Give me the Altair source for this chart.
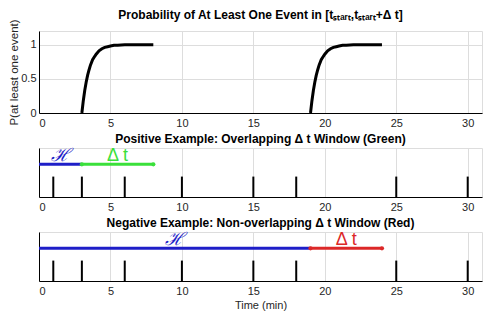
import altair as alt
import pandas as pd

# ---- data ----
events = [1, 3, 6, 10, 15, 18, 25, 30]

curve1_t = [3.0, 3.1, 3.2, 3.3, 3.4, 3.5, 3.6, 3.75, 3.9, 4.0, 4.2, 4.4, 4.6, 4.8, 5.0, 5.25, 5.5, 6.0, 6.5, 7.0, 7.5, 8.0]
curve1_p = [0.0, 0.18, 0.33, 0.45, 0.55, 0.63, 0.70, 0.78, 0.83, 0.86, 0.91, 0.94, 0.96, 0.97, 0.98, 0.99, 0.993, 1.0, 1.0, 1.0, 1.0, 1.0]
curve2_t = [19.0, 19.1, 19.2, 19.3, 19.4, 19.5, 19.6, 19.75, 19.9, 20.0, 20.2, 20.4, 20.6, 20.8, 21.0, 21.25, 21.5, 22.0, 22.5, 23.0, 23.5, 24.0]
curve2_p = [0.0, 0.18, 0.33, 0.45, 0.55, 0.63, 0.70, 0.78, 0.83, 0.86, 0.91, 0.94, 0.96, 0.97, 0.98, 0.99, 0.993, 1.0, 1.0, 1.0, 1.0, 1.0]

pos_hist = [0, 3]
pos_win = [3, 8]
neg_hist = [0, 19]
neg_win = [19, 24]

x_ticks = [0, 5, 10, 15, 20, 25, 30]

BLUE = "#1e1ec8"
GREEN = "#3ae03a"
RED = "#dc2828"
FONT = "Liberation Sans"
W = 443

xscale = alt.Scale(domain=[0, 31], nice=False, zero=False)
yscale = alt.Scale(domain=[0, 1.2], nice=False)


def xaxis(title=None):
    kw = dict(values=x_ticks, grid=True, ticks=False, labelPadding=4,
              labelFontSize=11, labelColor="#262626", domainColor="#000000")
    if title:
        kw.update(title=title, titleFontWeight="normal", titleFontSize=11,
                  titleColor="#262626", titlePadding=3)
    else:
        kw.update(title=None)
    return alt.Axis(**kw)


# ---- panel 1: probability curves ----
cdf = pd.DataFrame({
    "t": curve1_t + curve2_t,
    "p": curve1_p + curve2_p,
    "seg": ["a"] * len(curve1_t) + ["b"] * len(curve2_t),
})
p1 = alt.Chart(cdf).mark_line(color="black", strokeWidth=3).encode(
    x=alt.X("t:Q", scale=xscale, axis=xaxis()),
    y=alt.Y("p:Q", scale=yscale,
            axis=alt.Axis(values=[0, 0.5, 1], format="~g", grid=True, ticks=False,
                          labelPadding=3, labelFontSize=11, labelColor="#262626",
                          title="P(at least one event)", titleFontWeight="normal",
                          titleFontSize=11.5, titleColor="#262626", titlePadding=1,
                          domainColor="#000000")),
    detail="seg:N",
).properties(
    width=W, height=82,
    title=alt.TitleParams("Probability of At Least One Event in [tₛₜₐᵣₜ,tₛₜₐᵣₜ+Δ t]",
                          fontSize=12, fontWeight="bold", font=FONT, offset=-3),
)


def example(hist, win, color, title, xtitle=None):
    ev = pd.DataFrame({"t": events, "y0": [0] * len(events), "y1": [0.5] * len(events)})
    spikes = alt.Chart(ev).mark_rule(color="black", strokeWidth=2).encode(
        x=alt.X("t:Q", scale=xscale, axis=xaxis(xtitle)),
        y=alt.Y("y0:Q", scale=yscale,
                axis=alt.Axis(labels=False, ticks=False, grid=False, title=None,
                              domainColor="#000000")),
        y2="y1:Q",
    )
    seg = pd.DataFrame({
        "a": [hist[0], win[0]], "b": [hist[1], win[1]],
        "y": [0.8, 0.8], "c": [BLUE, color],
        "mid": [(hist[0] + hist[1]) / 2, (win[0] + win[1]) / 2],
        "lab": ["ℋ", "Δ t"],
    })
    lines = alt.Chart(seg).mark_rule(strokeWidth=3).encode(
        x="a:Q", x2="b:Q", y="y:Q", color=alt.Color("c:N", scale=None),
    )
    wend = pd.DataFrame({"t": win, "y": [0.8, 0.8]})
    dots = alt.Chart(wend).mark_point(filled=True, size=18, color=color, opacity=1).encode(
        x="t:Q", y="y:Q")
    h_text = alt.Chart(seg.iloc[[0]]).mark_text(baseline="bottom", dy=1, fontSize=18,
                                                font="DejaVu Serif", fontStyle="italic").encode(
        x="mid:Q", y="y:Q", text="lab:N", color=alt.Color("c:N", scale=None),
    )
    d_text = alt.Chart(seg.iloc[[1]]).mark_text(baseline="bottom", dy=1, fontSize=18,
                                                font=FONT).encode(
        x="mid:Q", y="y:Q", text="lab:N", color=alt.Color("c:N", scale=None),
    )
    return alt.layer(spikes, lines, dots, h_text, d_text).properties(
        width=W, height=49,
        title=alt.TitleParams(title, fontSize=12, fontWeight="bold", font=FONT, offset=1),
    )


p2 = example(pos_hist, pos_win, GREEN, "Positive Example: Overlapping Δ t Window (Green)")
p3 = example(neg_hist, neg_win, RED, "Negative Example: Non-overlapping Δ t Window (Red)",
             xtitle="Time (min)")

chart = alt.vconcat(p1, p2, p3, spacing=3).properties(
    padding={"left": 0, "top": 0, "right": 0, "bottom": 0}
).configure_view(
    stroke=None
).configure_axis(
    labelFont=FONT, titleFont=FONT, gridColor="#e3e3e3", domainWidth=1.2
).configure(background="white")

chart.save("out.html", embed_options={"renderer": "svg", "actions": False})
